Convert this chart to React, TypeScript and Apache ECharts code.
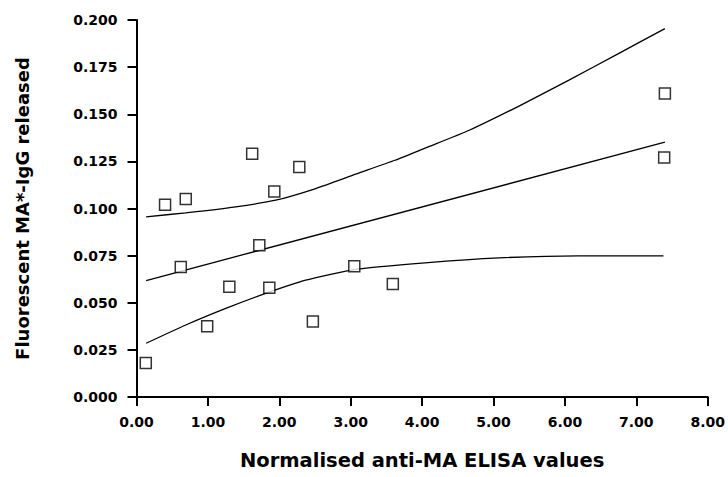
import React, { useEffect, useRef } from "react";
import * as echarts from "echarts";

// Scatter data
const pointX = [0.13, 0.40, 0.69, 0.62, 1.30, 0.99, 1.72, 1.86, 3.05, 2.47, 3.59, 1.62, 2.28, 1.93, 7.40, 7.39];
const pointY = [0.018, 0.102, 0.105, 0.069, 0.0585, 0.0375, 0.0805, 0.058, 0.0694, 0.040, 0.060, 0.129, 0.122, 0.109, 0.161, 0.127];

// Regression line
const fitX = [0.135, 7.40];
const fitY = [0.0618, 0.1352];

// Upper confidence band
const upperX = [0.135, 0.69, 1.39, 1.95, 2.51, 3.07, 3.62, 4.04, 4.66, 5.35, 6.05, 6.75, 7.40];
const upperY = [0.0956, 0.0977, 0.1009, 0.1044, 0.1106, 0.1182, 0.1256, 0.1320, 0.1415, 0.1542, 0.1680, 0.1822, 0.1954];

// Lower confidence band
const lowerX = [0.135, 0.69, 1.25, 1.81, 2.37, 3.07, 4.04, 5.08, 6.19, 7.38];
const lowerY = [0.0285, 0.0382, 0.0470, 0.0550, 0.0620, 0.0677, 0.0712, 0.0738, 0.0749, 0.0749];

const xTitle = "Normalised anti-MA ELISA values";
const yTitle = "Fluorescent MA*-IgG released";

const FONT = "DejaVu Sans";

const zip = (xs: number[], ys: number[]) => xs.map((x, i) => [x, ys[i]]);

export default function App() {
  const ref = useRef<HTMLDivElement>(null);
  useEffect(() => {
    if (!ref.current) return;
    const chart = echarts.init(ref.current, undefined, { renderer: "svg" });
    const lineStyle = { color: "#000", width: 1.3 };
    const axisLabel = {
      color: "#000",
      fontFamily: FONT,
      fontWeight: "bold" as const,
      fontSize: 14,
    };
    chart.setOption({
      animation: false,
      backgroundColor: "#fff",
      grid: { left: 136.5, right: 19, top: 20, bottom: 80 },
      xAxis: {
        type: "value",
        min: 0,
        max: 8,
        interval: 1,
        name: xTitle,
        nameLocation: "middle",
        nameGap: 53,
        nameTextStyle: { color: "#000", fontFamily: FONT, fontWeight: "bold", fontSize: 19.5 },
        axisLine: { show: true, lineStyle: { color: "#000", width: 2 } },
        axisTick: { show: true, length: 9, lineStyle: { color: "#000", width: 2 } },
        axisLabel: { ...axisLabel, margin: 18, formatter: (v: number) => v.toFixed(2) },
        splitLine: { show: false },
      },
      yAxis: {
        type: "value",
        min: 0,
        max: 0.2,
        interval: 0.025,
        name: yTitle,
        nameLocation: "middle",
        nameGap: 105,
        nameTextStyle: { color: "#000", fontFamily: FONT, fontWeight: "bold", fontSize: 18 },
        axisLine: { show: true, lineStyle: { color: "#000", width: 2 } },
        axisTick: { show: true, length: 9, lineStyle: { color: "#000", width: 2 } },
        axisLabel: { ...axisLabel, margin: 19, formatter: (v: number) => v.toFixed(3) },
        splitLine: { show: false },
      },
      series: [
        {
          type: "line",
          data: zip(upperX, upperY),
          smooth: 0.2,
          showSymbol: false,
          lineStyle,
        },
        {
          type: "line",
          data: zip(fitX, fitY),
          showSymbol: false,
          lineStyle,
        },
        {
          type: "line",
          data: zip(lowerX, lowerY),
          smooth: 0.2,
          showSymbol: false,
          lineStyle,
        },
        {
          type: "scatter",
          data: zip(pointX, pointY),
          symbol: "rect",
          symbolSize: 11,
          itemStyle: { color: "#fff", borderColor: "#000", borderWidth: 1.5 },
          z: 5,
        },
      ],
    });
    return () => chart.dispose();
  }, []);
  return (
    <div
      ref={ref}
      style={{ position: "fixed", left: 0, top: 0, width: 728, height: 477 }}
    />
  );
}
